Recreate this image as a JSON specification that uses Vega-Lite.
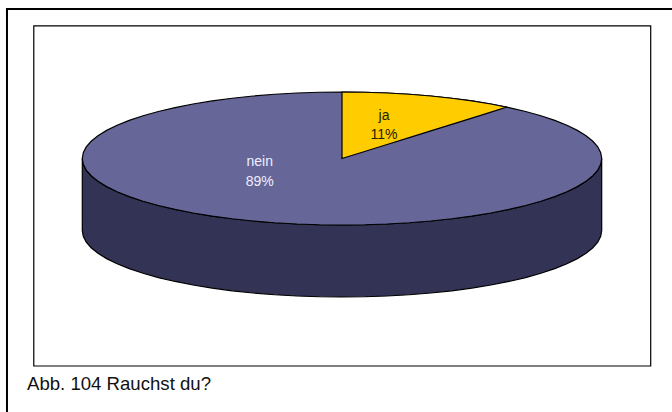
{"$schema":"https://vega.github.io/schema/vega-lite/v6.json","width":672,"height":412,"padding":0,"autosize":{"type":"none"},"background":"white","config":{"view":{"stroke":null}},
"datasets":{
"nein":[{"x":-1,"t":0,"b":0},{"x":-0.9962,"t":0.0872,"b":-0.0872},{"x":-0.9848,"t":0.1736,"b":-0.1736},{"x":-0.9659,"t":0.2588,"b":-0.2588},{"x":-0.9397,"t":0.342,"b":-0.342},{"x":-0.9063,"t":0.4226,"b":-0.4226},{"x":-0.866,"t":0.5,"b":-0.5},{"x":-0.8192,"t":0.5736,"b":-0.5736},{"x":-0.766,"t":0.6428,"b":-0.6428},{"x":-0.7071,"t":0.7071,"b":-0.7071},{"x":-0.6428,"t":0.766,"b":-0.766},{"x":-0.5736,"t":0.8192,"b":-0.8192},{"x":-0.5,"t":0.866,"b":-0.866},{"x":-0.4226,"t":0.9063,"b":-0.9063},{"x":-0.342,"t":0.9397,"b":-0.9397},{"x":-0.2588,"t":0.9659,"b":-0.9659},{"x":-0.1736,"t":0.9848,"b":-0.9848},{"x":-0.0872,"t":0.9962,"b":-0.9962},{"x":0,"t":1,"b":-1},{"x":0.0872,"t":0.9962,"b":-0.9962},{"x":0.1736,"t":0.9848,"b":-0.9848},{"x":0.2588,"t":0.9659,"b":-0.9659},{"x":0.342,"t":0.9397,"b":-0.9397},{"x":0.4226,"t":0.9063,"b":-0.9063},{"x":0.5,"t":0.866,"b":-0.866},{"x":0.5736,"t":0.8192,"b":-0.8192},{"x":0.6428,"t":0.766,"b":-0.766},{"x":0.7071,"t":0.7071,"b":-0.7071},{"x":0.766,"t":0.6428,"b":-0.6428},{"x":0.8192,"t":0.5736,"b":-0.5736},{"x":0.866,"t":0.5,"b":-0.5},{"x":0.9063,"t":0.4226,"b":-0.4226},{"x":0.9397,"t":0.342,"b":-0.342},{"x":0.9659,"t":0.2588,"b":-0.2588},{"x":0.9848,"t":0.1736,"b":-0.1736},{"x":0.9962,"t":0.0872,"b":-0.0872},{"x":1,"t":0,"b":0}],
"side":[{"x":-1,"t":0,"b":-1.083},{"x":-0.9962,"t":-0.0872,"b":-1.1702},{"x":-0.9848,"t":-0.1736,"b":-1.2566},{"x":-0.9659,"t":-0.2588,"b":-1.3418},{"x":-0.9397,"t":-0.342,"b":-1.425},{"x":-0.9063,"t":-0.4226,"b":-1.5056},{"x":-0.866,"t":-0.5,"b":-1.583},{"x":-0.8192,"t":-0.5736,"b":-1.6566},{"x":-0.766,"t":-0.6428,"b":-1.7258},{"x":-0.7071,"t":-0.7071,"b":-1.7901},{"x":-0.6428,"t":-0.766,"b":-1.849},{"x":-0.5736,"t":-0.8192,"b":-1.9022},{"x":-0.5,"t":-0.866,"b":-1.949},{"x":-0.4226,"t":-0.9063,"b":-1.9893},{"x":-0.342,"t":-0.9397,"b":-2.0227},{"x":-0.2588,"t":-0.9659,"b":-2.0489},{"x":-0.1736,"t":-0.9848,"b":-2.0678},{"x":-0.0872,"t":-0.9962,"b":-2.0792},{"x":0,"t":-1,"b":-2.083},{"x":0.0872,"t":-0.9962,"b":-2.0792},{"x":0.1736,"t":-0.9848,"b":-2.0678},{"x":0.2588,"t":-0.9659,"b":-2.0489},{"x":0.342,"t":-0.9397,"b":-2.0227},{"x":0.4226,"t":-0.9063,"b":-1.9893},{"x":0.5,"t":-0.866,"b":-1.949},{"x":0.5736,"t":-0.8192,"b":-1.9022},{"x":0.6428,"t":-0.766,"b":-1.849},{"x":0.7071,"t":-0.7071,"b":-1.7901},{"x":0.766,"t":-0.6428,"b":-1.7258},{"x":0.8192,"t":-0.5736,"b":-1.6566},{"x":0.866,"t":-0.5,"b":-1.583},{"x":0.9063,"t":-0.4226,"b":-1.5056},{"x":0.9397,"t":-0.342,"b":-1.425},{"x":0.9659,"t":-0.2588,"b":-1.3418},{"x":0.9848,"t":-0.1736,"b":-1.2566},{"x":0.9962,"t":-0.0872,"b":-1.1702},{"x":1,"t":0,"b":-1.083}],
"ja":[{"x":0,"t":1,"b":0},{"x":0.0872,"t":0.9962,"b":0.106},{"x":0.1736,"t":0.9848,"b":0.2111},{"x":0.2588,"t":0.9659,"b":0.3146},{"x":0.342,"t":0.9397,"b":0.4158},{"x":0.4226,"t":0.9063,"b":0.5138},{"x":0.5,"t":0.866,"b":0.6079},{"x":0.5736,"t":0.8192,"b":0.6973},{"x":0.635,"t":0.7724,"b":0.772}],
"labels":[{"x":0.1617,"y":0.586,"text":"ja","c":"d"},{"x":0.1617,"y":0.293,"text":"11%","c":"d"},{"x":-0.3169,"y":-0.12,"text":"nein","c":"w"},{"x":-0.3169,"y":-0.409,"text":"89%","c":"w"}]
},
"encoding":{"x":{"field":"x","type":"quantitative","axis":null,"scale":{"domain":[-1.3169,1.2707],"nice":false,"zero":false}}},
"layer":[
{"data":{"values":[{"x":-1.1868,"x2":1.1887,"y":1.9955,"y2":-3.12}]},"mark":{"type":"rect","fill":"white","stroke":"black","strokeWidth":1.2},"encoding":{"x2":{"field":"x2"},"y":{"field":"y","type":"quantitative","axis":null,"scale":{"domain":[-3.812,2.3835],"nice":false,"zero":false}},"y2":{"field":"y2"}}},
{"data":{"values":[{"x":-1.29,"x2":-1.29,"y":2.263,"y2":-3.812},{"x":-1.29,"x2":1.2707,"y":2.248,"y2":2.248}]},"mark":{"type":"rule","color":"black","strokeWidth":2},"encoding":{"x2":{"field":"x2"},"y":{"field":"y","type":"quantitative","axis":null},"y2":{"field":"y2"}}},
{"data":{"name":"side"},"mark":{"type":"area","fill":"#333355","stroke":"black","strokeWidth":1.2},"encoding":{"y":{"field":"t","type":"quantitative","axis":null},"y2":{"field":"b"}}},
{"data":{"name":"nein"},"mark":{"type":"area","fill":"#666699","stroke":"black","strokeWidth":1.2},"encoding":{"y":{"field":"t","type":"quantitative","axis":null},"y2":{"field":"b"}}},
{"data":{"name":"ja"},"mark":{"type":"area","fill":"#FFCC00","stroke":"black","strokeWidth":1.2},"encoding":{"y":{"field":"t","type":"quantitative","axis":null},"y2":{"field":"b"}}},
{"data":{"name":"labels"},"mark":{"type":"text","font":"Liberation Sans","fontSize":14,"align":"center","baseline":"alphabetic"},"encoding":{"y":{"field":"y","type":"quantitative","axis":null},"text":{"field":"text"},"color":{"field":"c","type":"nominal","legend":null,"scale":{"domain":["d","w"],"range":["#222200","#eeeeff"]}}}},
{"data":{"values":[{"x":-1.213,"y":-3.481,"text":"Abb. 104 Rauchst du?"}]},"mark":{"type":"text","font":"Liberation Sans","fontSize":18.6,"align":"left","baseline":"alphabetic","color":"#111111"},"encoding":{"y":{"field":"y","type":"quantitative","axis":null},"text":{"field":"text"}}}
],
"resolve":{"scale":{"y":"shared","x":"shared"}}
}
